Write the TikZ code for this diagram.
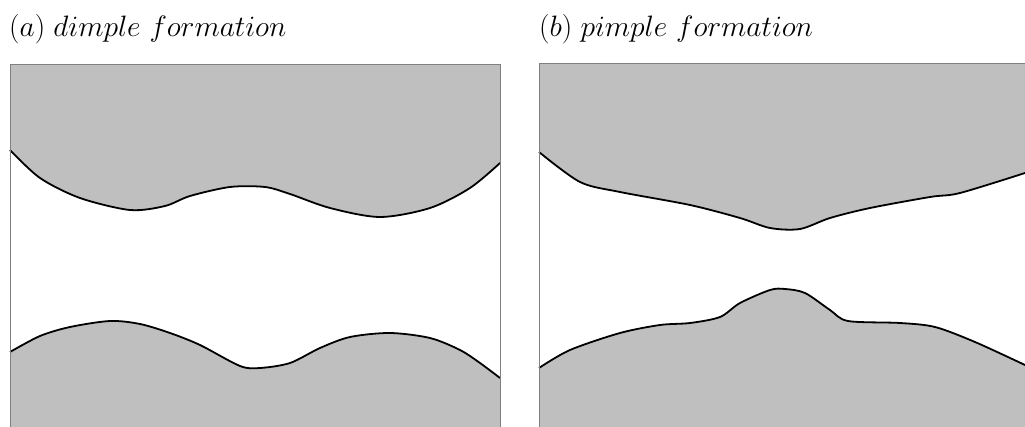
\RequirePackage{fix-cm}
\documentclass[tikz,border=0pt]{standalone}
\usepackage{tikz}
\definecolor{metalgray}{HTML}{BFBFBF}
\definecolor{framegray}{HTML}{808080}

\begin{document}
\begin{tikzpicture}[
  x=1pt, y=-1pt,
  caption/.style={anchor=base west, inner sep=0pt, font=\fontsize{29.5}{34}\selectfont},
  metal/.style={fill=metalgray},
  rim/.style={line width=1.8pt, black, line join=round},
  frame/.style={draw=framegray, line width=1pt}
]
\useasboundingbox (0,0) rectangle (1025,427);
\clip (0,0) rectangle (1025,427);

% captions
\node[caption] (capa) at (9,37) {$(a)\;dimple\ formation$};
\node[caption] (capb) at (539,37) {$(b)\;pimple\ formation$};

% (a) dimple formation
\fill[metal] (10,65) -- plot[smooth] coordinates {(10,150) (40,178) (80,198) (130,210) (165,206) (190,196) (230,187) (265,187) (290,194) (330,208) (380,217) (430,208) (470,188) (500,163)} -- (500,65) -- cycle;
\fill[metal] (10,427) -- plot[smooth] coordinates {(10,352) (40,336) (70,327) (110,321) (140,324) (170,333) (200,345) (240,366) (260,368) (290,363) (320,348) (350,337) (390,333) (430,338) (460,350) (480,363) (500,378)} -- (500,427) -- cycle;
\draw[rim] plot[smooth] coordinates {(10,150) (40,178) (80,198) (130,210) (165,206) (190,196) (230,187) (265,187) (290,194) (330,208) (380,217) (430,208) (470,188) (500,163)};
\draw[rim] plot[smooth] coordinates {(10,352) (40,336) (70,327) (110,321) (140,324) (170,333) (200,345) (240,366) (260,368) (290,363) (320,348) (350,337) (390,333) (430,338) (460,350) (480,363) (500,378)};
\draw[frame] (10,427) -- (10,65) -- (500,65) -- (500,427);

% (b) pimple formation
\fill[metal] (539,64) -- plot[smooth] coordinates {(539,152) (580,182) (620,192) (690,205) (740,218) (770,228) (800,229) (830,218) (870,208) (930,197) (960,193) (1025,173)} -- (1025,64) -- cycle;
\fill[metal] (539,427) -- plot[smooth] coordinates {(539,368) (570,350) (620,333) (660,325) (690,323) (720,317) (740,303) (770,290) (785,289) (805,293) (830,310) (848,321) (900,323) (935,327) (975,342) (1025,365)} -- (1025,427) -- cycle;
\draw[rim] plot[smooth] coordinates {(539,152) (580,182) (620,192) (690,205) (740,218) (770,228) (800,229) (830,218) (870,208) (930,197) (960,193) (1025,173)};
\draw[rim] plot[smooth] coordinates {(539,368) (570,350) (620,333) (660,325) (690,323) (720,317) (740,303) (770,290) (785,289) (805,293) (830,310) (848,321) (900,323) (935,327) (975,342) (1025,365)};
\draw[frame] (539,427) -- (539,64) -- (1026,64);
\end{tikzpicture}
\end{document}
